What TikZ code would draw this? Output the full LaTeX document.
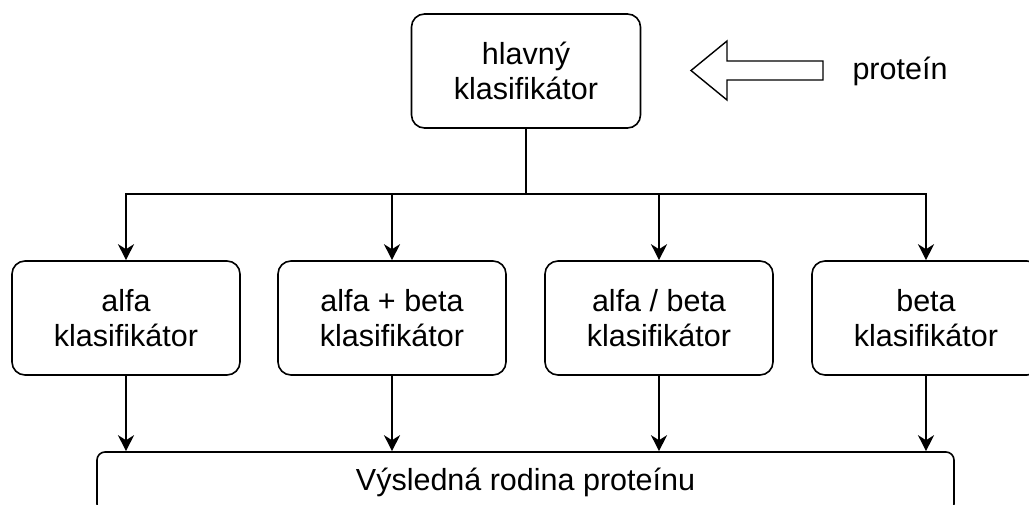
\documentclass[tikz,border=0pt]{standalone}
\usepackage{fontspec}
\setmainfont{Liberation Sans}
\usetikzlibrary{arrows.meta}
\begin{document}
\begin{tikzpicture}[x=1pt,y=-1pt,
  every node/.style={font=\fontsize{30.5}{35}\selectfont, align=center},
  box/.style={draw, line width=1.6pt, rounded corners=13pt, inner sep=0pt,
    minimum width=228pt, minimum height=114pt},
  resultbox/.style={draw, line width=1.6pt, rounded corners=8pt, inner sep=0pt,
    minimum width=857pt, minimum height=60pt, text height=22pt, text depth=6pt},
  link/.style={line width=1.6pt},
  flow/.style={line width=1.6pt, -{Stealth[length=16pt, width=16pt, inset=5pt]}}]
  \useasboundingbox (0,0) rectangle (1029,504);

  % main classifier and its input
  \node[box, minimum width=229pt] (main) at (526,71) {hlavný\\klasifikátor};
  \draw[line width=1.4pt, line join=miter]
    (691,70.5) -- (727,41) -- (727,61) -- (823,61) -- (823,80)
    -- (727,80) -- (727,100) -- cycle;
  \node[anchor=base] (input) at (900,79) {proteín};

  % class-specific classifiers
  \node[box] (alpha) at (126,318) {alfa\\klasifikátor};
  \node[box] (alphaplus) at (392,318) {alfa + beta\\klasifikátor};
  \node[box] (alphaslash) at (659,318) {alfa / beta\\klasifikátor};
  \node[box] (beta) at (926,318) {beta\\klasifikátor};

  % final result
  \node[resultbox] (result) at (525.5,482) {Výsledná rodina proteínu};

  % distribution from the main classifier
  \coordinate (bus) at (526,194);
  \draw[link] (main.south) -- (bus);
  \foreach \n in {alpha, alphaplus, alphaslash, beta}
    \draw[flow] (bus) -| (\n.north);

  % collection into the result
  \foreach \n in {alpha, alphaplus, alphaslash, beta}
    \draw[flow] (\n.south) -- (\n.south |- result.north);
\end{tikzpicture}
\end{document}
